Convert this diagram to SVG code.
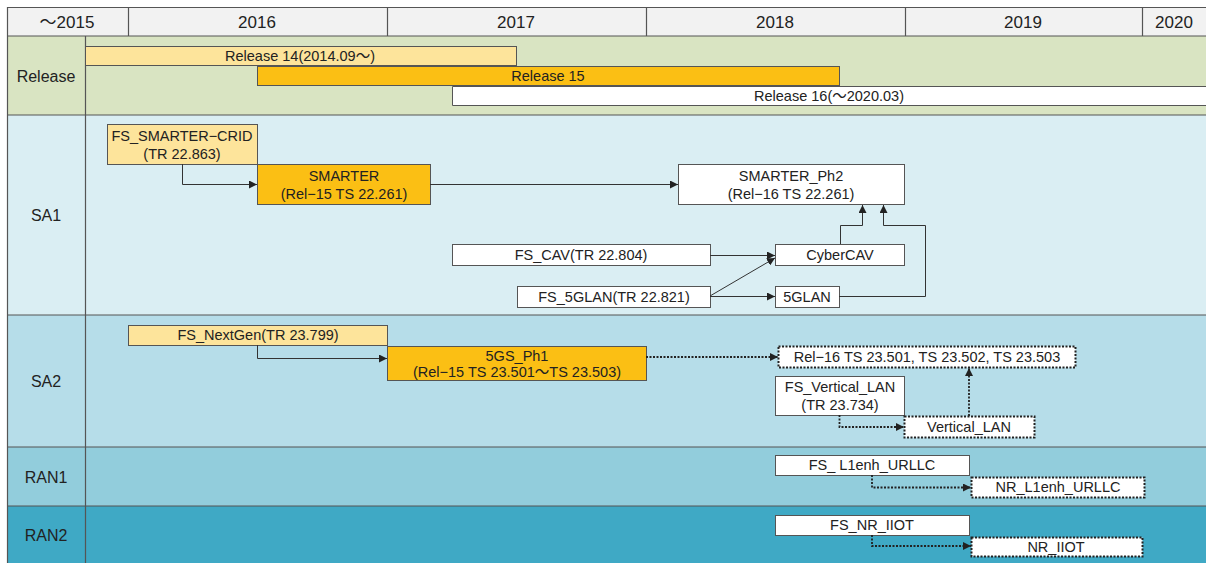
<svg xmlns="http://www.w3.org/2000/svg" width="1206" height="563" viewBox="0 0 1206 563">
<style>
text{font-family:"Liberation Sans","Noto Sans CJK KR",sans-serif;font-size:14.5px;fill:#222;text-anchor:middle;dominant-baseline:central}
.hd{font-size:17px}
.lbl{font-size:16px}
.box{stroke:#555;stroke-width:1}
.w{fill:#fff}
.ly{fill:#fde49b}
.or{fill:#fbbf14}
.dot{stroke-dasharray:2 1.5;stroke:#222;stroke-width:2}
.c{fill:none;stroke:#333;stroke-width:1}
.cd{fill:none;stroke:#222;stroke-width:1.8;stroke-dasharray:2 1.5}
.sep{stroke:#555;stroke-width:1.2}
</style>
<defs>
<marker id="ah" viewBox="0 0 10 10" refX="10" refY="5" markerWidth="8" markerHeight="8" markerUnits="userSpaceOnUse" orient="auto"><path d="M0,0 L10,5 L0,10 z" fill="#222"/></marker>
</defs>
<rect width="1206" height="563" fill="#fff"/>
<g id="background">
<rect x="7" y="7" width="1199" height="29" fill="#f2f2f2"/>
<rect x="7" y="36" width="1199" height="79" fill="#d9e4c2"/>
<rect x="7" y="115" width="1199" height="200" fill="#daeef3"/>
<rect x="7" y="315" width="1199" height="132" fill="#b6dde9"/>
<rect x="7" y="447" width="1199" height="59" fill="#92cddc"/>
<rect x="7" y="506" width="1199" height="57" fill="#3fa9c5"/>
<g class="sep">
<line x1="7" y1="7.5" x2="1206" y2="7.5"/>
<line x1="7" y1="36" x2="1206" y2="36"/>
<line x1="7" y1="115" x2="1206" y2="115"/>
<line x1="7" y1="315" x2="1206" y2="315"/>
<line x1="7" y1="447" x2="1206" y2="447"/>
<line x1="7" y1="506" x2="1206" y2="506"/>
<line x1="7.5" y1="7" x2="7.5" y2="563"/>
<line x1="85.5" y1="36" x2="85.5" y2="563"/>
<line x1="128.5" y1="7" x2="128.5" y2="36"/>
<line x1="387.5" y1="7" x2="387.5" y2="36"/>
<line x1="646.5" y1="7" x2="646.5" y2="36"/>
<line x1="905.5" y1="7" x2="905.5" y2="36"/>
<line x1="1142.5" y1="7" x2="1142.5" y2="36"/>
</g>
<text class="hd" x="67" y="22">～2015</text>
<text class="hd" x="257" y="22">2016</text>
<text class="hd" x="516" y="22">2017</text>
<text class="hd" x="775" y="22">2018</text>
<text class="hd" x="1023" y="22">2019</text>
<text class="hd" x="1174" y="22">2020</text>
<text class="lbl" x="46" y="76">Release</text>
<text class="lbl" x="46" y="215">SA1</text>
<text class="lbl" x="46" y="381">SA2</text>
<text class="lbl" x="46" y="477">RAN1</text>
<text class="lbl" x="46" y="535">RAN2</text>
</g>
<g id="rel14"><rect class="box ly" x="85.5" y="46.5" width="431" height="19"/><text x="300" y="56">Release 14(2014.09～)</text></g>
<g id="rel15"><rect class="box or" x="257.5" y="66.5" width="582" height="19"/><text x="548" y="76">Release 15</text></g>
<g id="rel16"><path d="M1206,86.5 H452.5 V105.5 H1206" class="box w"/><text x="829" y="96">Release 16(～2020.03)</text></g>

<g id="fs_smarter_crid"><rect class="box ly" x="107.5" y="124.5" width="150" height="40"/><text x="182" y="136">FS_SMARTER−CRID</text><text x="182" y="154">(TR 22.863)</text></g>
<g id="smarter"><rect class="box or" x="257.5" y="164.5" width="173" height="40"/><text x="344" y="176">SMARTER</text><text x="344" y="194">(Rel−15 TS 22.261)</text></g>
<g id="smarter_ph2"><rect class="box w" x="678.5" y="164.5" width="226" height="40"/><text x="791" y="176">SMARTER_Ph2</text><text x="791" y="194">(Rel−16 TS 22.261)</text></g>
<g id="fs_cav"><rect class="box w" x="452.5" y="244.5" width="258" height="21"/><text x="581" y="255">FS_CAV(TR 22.804)</text></g>
<g id="cybercav"><rect class="box w" x="775.5" y="244.5" width="129" height="21"/><text x="840" y="255">CyberCAV</text></g>
<g id="fs_5glan"><rect class="box w" x="517.5" y="286.5" width="193" height="21"/><text x="614" y="297">FS_5GLAN(TR 22.821)</text></g>
<g id="g5glan"><rect class="box w" x="775.5" y="286.5" width="64" height="21"/><text x="807" y="297">5GLAN</text></g>

<g id="fs_nextgen"><rect class="box ly" x="128.5" y="325.5" width="259" height="20"/><text x="258" y="335">FS_NextGen(TR 23.799)</text></g>
<g id="g5gs_ph1"><rect class="box or" x="387.5" y="346.5" width="259" height="34"/><text x="517" y="356">5GS_Ph1</text><text x="517" y="372">(Rel−15 TS 23.501～TS 23.503)</text></g>
<g id="rel16_ts"><rect class="w dot" x="778.5" y="346.5" width="297" height="21" fill="#fff"/><text x="927" y="357">Rel−16 TS 23.501, TS 23.502, TS 23.503</text></g>
<g id="fs_vertical_lan"><rect class="box w" x="775.5" y="376.5" width="129" height="39"/><text x="840" y="387">FS_Vertical_LAN</text><text x="840" y="405">(TR 23.734)</text></g>
<g id="vertical_lan"><rect class="w dot" x="904.5" y="416.5" width="130" height="21" fill="#fff"/><text x="969" y="427">Vertical_LAN</text></g>

<g id="fs_l1enh_urllc"><rect class="box w" x="775.5" y="455.5" width="194" height="20"/><text x="872" y="465">FS_ L1enh_URLLC</text></g>
<g id="nr_l1enh_urllc"><rect class="w dot" x="971.5" y="477.5" width="173" height="20" fill="#fff"/><text x="1058" y="487">NR_L1enh_URLLC</text></g>
<g id="fs_nr_iiot"><rect class="box w" x="775.5" y="515.5" width="194" height="20"/><text x="872" y="525">FS_NR_IIOT</text></g>
<g id="nr_iiot"><rect class="w dot" x="971.5" y="537.5" width="171" height="19" fill="#fff"/><text x="1056" y="547">NR_IIOT</text></g>

<g id="connectors">
<path class="c" d="M182.5,164 V184.5 H257" marker-end="url(#ah)"/>
<path class="c" d="M430,184.5 H678" marker-end="url(#ah)"/>
<path class="c" d="M840.5,244 V225.5 H862.5 V205" marker-end="url(#ah)"/>
<path class="c" d="M839,296.5 H925.5 V225.5 H883.5 V205" marker-end="url(#ah)"/>
<path class="c" d="M710,255.5 H775" marker-end="url(#ah)"/>
<path class="c" d="M710,296 L775,258" marker-end="url(#ah)"/>
<path class="c" d="M710,296.5 H775" marker-end="url(#ah)"/>
<path class="c" d="M257.5,345 V358.5 H387" marker-end="url(#ah)"/>
<path class="cd" d="M646,357 H778" marker-end="url(#ah)"/>
<path class="cd" d="M839.5,415 V427 H904" marker-end="url(#ah)"/>
<path class="cd" d="M969,416 V368" marker-end="url(#ah)"/>
<path class="cd" d="M872,475 V487.5 H971" marker-end="url(#ah)"/>
<path class="cd" d="M872,535 V546 H971" marker-end="url(#ah)"/>
</g>
</svg>
